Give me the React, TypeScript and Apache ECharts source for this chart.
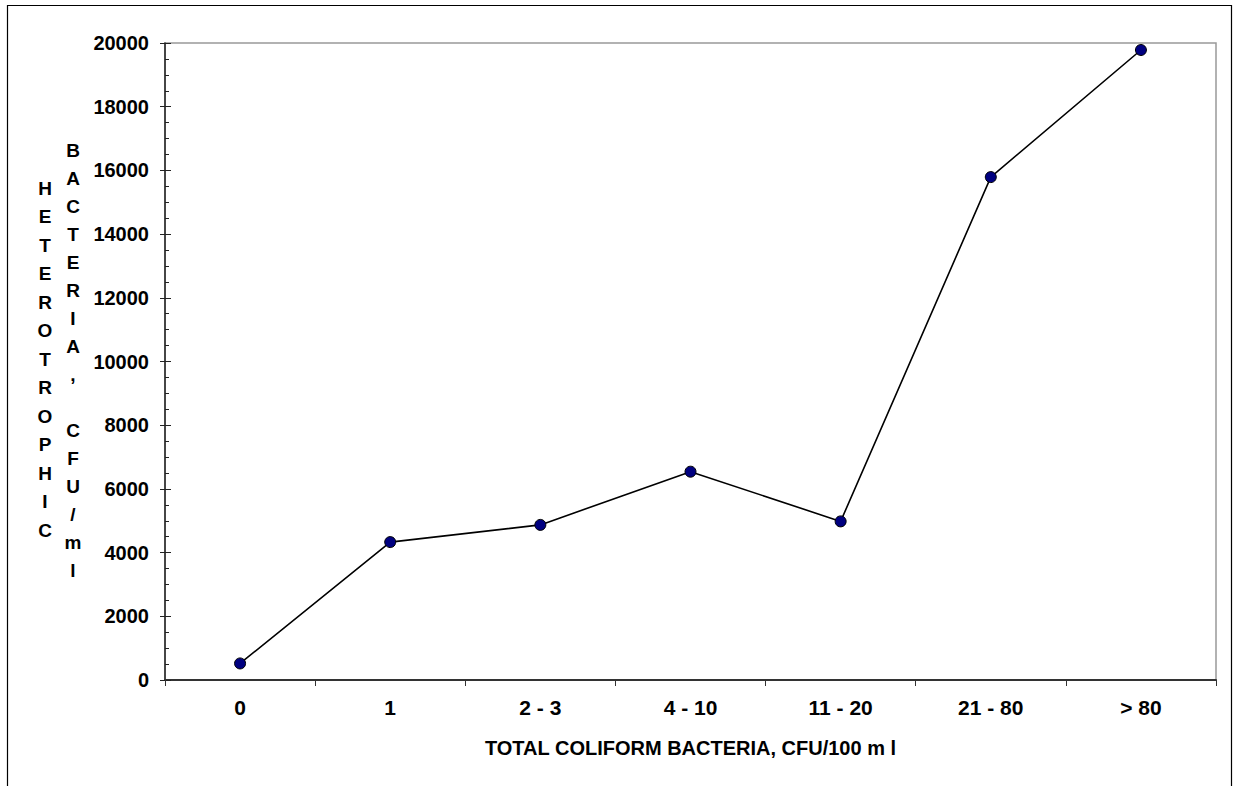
import React, { useEffect, useRef } from "react";
import * as echarts from "echarts";

const categories = ["0", "1", "2 - 3", "4 - 10", "11 - 20", "21 - 80", "> 80"];
const heterotrophic = [520, 4330, 4870, 6540, 4980, 15790, 19780];
const yMin = 0;
const yMax = 20000;
const yInterval = 2000;
const xTitle = "TOTAL COLIFORM BACTERIA, CFU/100 m l";
const yTitleCol1 = ["H", "E", "T", "E", "R", "O", "T", "R", "O", "P", "H", "I", "C"];
const yTitleCol2 = ["B", "A", "C", "T", "E", "R", "I", "A", ",", " ", "C", "F", "U", "/", "m", "l"];

const FONT = "'Liberation Sans', Arial, sans-serif";

export default function App() {
  const ref = useRef<HTMLDivElement>(null);
  useEffect(() => {
    if (!ref.current) return;
    const chart = echarts.init(ref.current, null, { renderer: "svg" });
    chart.setOption({
      animation: false,
      backgroundColor: "#ffffff",
      textStyle: { fontFamily: FONT },
      grid: {
        left: 165,
        right: 19,
        top: 43,
        bottom: 106,
        show: true,
        borderColor: "#999999",
        borderWidth: 1.5,
        backgroundColor: "transparent",
      },
      graphic: [
        {
          type: "rect",
          shape: { x: 7.5, y: 5.5, width: 1224, height: 820 },
          style: { fill: "none", stroke: "#000", lineWidth: 1.2 },
          silent: true,
          z: 0,
        },
        {
          type: "text",
          x: 45,
          y: 359,
          style: {
            text: yTitleCol1.join("\n"),
            fontSize: 19,
            fontWeight: "bold",
            fontFamily: FONT,
            fill: "#000",
            lineHeight: 28.5,
            align: "center",
            verticalAlign: "middle",
          },
        },
        {
          type: "text",
          x: 73,
          y: 360,
          style: {
            text: yTitleCol2.join("\n"),
            fontSize: 19,
            fontWeight: "bold",
            fontFamily: FONT,
            fill: "#000",
            lineHeight: 28,
            align: "center",
            verticalAlign: "middle",
          },
        },
      ],
      xAxis: {
        type: "category",
        data: categories,
        boundaryGap: true,
        name: xTitle,
        nameLocation: "middle",
        nameGap: 58,
        nameTextStyle: { fontSize: 20, fontWeight: "bold", color: "#000", fontFamily: FONT },
        axisLine: { show: true, lineStyle: { color: "#333", width: 2 } },
        axisTick: { show: true, length: 6, lineStyle: { color: "#333", width: 1 } },
        axisLabel: { fontSize: 21, fontWeight: "bold", color: "#000", margin: 17, fontFamily: FONT },
        splitLine: { show: false },
      },
      yAxis: [
        {
          type: "value",
          min: yMin,
          max: yMax,
          interval: yInterval,
          axisLine: { show: true, lineStyle: { color: "#222", width: 1.5 } },
          axisTick: { show: true, length: 5, lineStyle: { color: "#222", width: 1 } },
          axisLabel: {
            fontSize: 20,
            fontWeight: "bold",
            color: "#000",
            margin: 16,
            fontFamily: FONT,
            formatter: (v: number) => String(v),
          },
          splitLine: { show: false },
        },
        {
          type: "value",
          position: "left",
          min: yMin,
          max: yMax,
          interval: yInterval,
          axisLine: { show: false },
          axisTick: { show: true, inside: true, length: 6, lineStyle: { color: "#222", width: 1 } },
          minorTick: { show: true, splitNumber: 4, length: 4, lineStyle: { color: "#222", width: 1 } },
          axisLabel: { show: false },
          splitLine: { show: false },
        },
      ],
      series: [
        {
          type: "line",
          data: heterotrophic,
          yAxisIndex: 0,
          symbol: "circle",
          symbolSize: 11,
          lineStyle: { color: "#000", width: 1.6 },
          itemStyle: { color: "#000080", borderColor: "#000", borderWidth: 1 },
          z: 5,
        },
      ],
    });
    return () => chart.dispose();
  }, []);
  return (
    <div
      ref={ref}
      style={{ position: "fixed", left: 0, top: 0, width: 1235, height: 786 }}
    />
  );
}
